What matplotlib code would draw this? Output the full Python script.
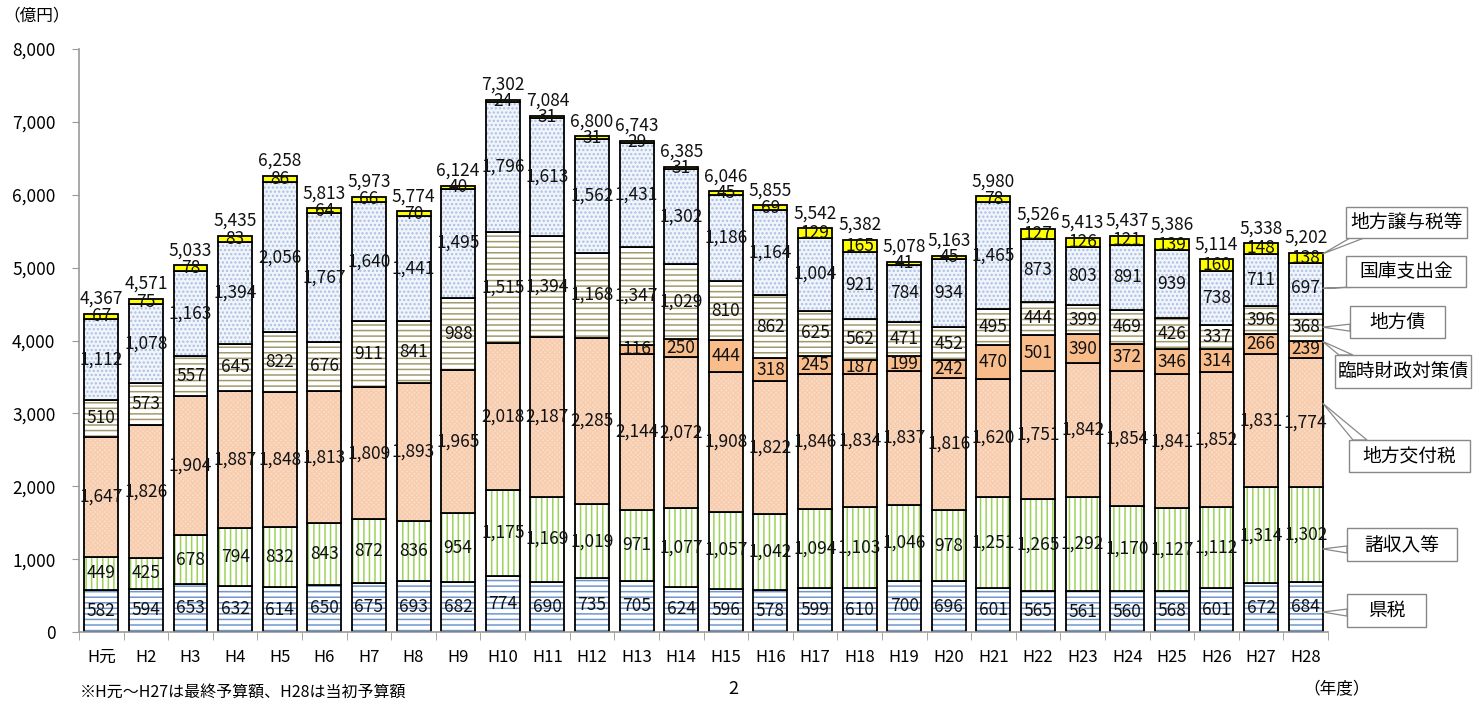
import numpy as np
import matplotlib
matplotlib.use("Agg")
import matplotlib.pyplot as plt
from matplotlib.patches import Rectangle, Polygon

plt.rcParams['font.family'] = ['Noto Sans CJK JP', 'DejaVu Sans']
plt.rcParams['hatch.linewidth'] = 1.1

# --- data (億円) ---
years = ['H元', 'H2', 'H3', 'H4', 'H5', 'H6', 'H7', 'H8', 'H9', 'H10', 'H11', 'H12', 'H13', 'H14',
         'H15', 'H16', 'H17', 'H18', 'H19', 'H20', 'H21', 'H22', 'H23', 'H24', 'H25', 'H26', 'H27', 'H28']
kenzei = [582, 594, 653, 632, 614, 650, 675, 693, 682, 774, 690, 735, 705, 624,
          596, 578, 599, 610, 700, 696, 601, 565, 561, 560, 568, 601, 672, 684]
shoshunyu = [449, 425, 678, 794, 832, 843, 872, 836, 954, 1175, 1169, 1019, 971, 1077,
             1057, 1042, 1094, 1103, 1046, 978, 1251, 1265, 1292, 1170, 1127, 1112, 1314, 1302]
kofuzei = [1647, 1826, 1904, 1887, 1848, 1813, 1809, 1893, 1965, 2018, 2187, 2285, 2144, 2072,
           1908, 1822, 1846, 1834, 1837, 1816, 1620, 1751, 1842, 1854, 1841, 1852, 1831, 1774]
rinji = [0, 0, 0, 0, 0, 0, 0, 0, 0, 0, 0, 0, 116, 250,
         444, 318, 245, 187, 199, 242, 470, 501, 390, 372, 346, 314, 266, 239]
chihosai = [510, 573, 557, 645, 822, 676, 911, 841, 988, 1515, 1394, 1168, 1347, 1029,
            810, 862, 625, 562, 471, 452, 495, 444, 399, 469, 426, 337, 396, 368]
kokko = [1112, 1078, 1163, 1394, 2056, 1767, 1640, 1441, 1495, 1796, 1613, 1562, 1431, 1302,
         1186, 1164, 1004, 921, 784, 934, 1465, 873, 803, 891, 939, 738, 711, 697]
joyozei = [67, 75, 78, 83, 86, 64, 66, 70, 40, 24, 31, 31, 29, 31,
           45, 69, 129, 165, 41, 45, 78, 127, 126, 121, 139, 160, 148, 138]
totals = [4367, 4571, 5033, 5435, 6258, 5813, 5973, 5774, 6124, 7302, 7084, 6800, 6743, 6385,
          6046, 5855, 5542, 5382, 5078, 5163, 5980, 5526, 5413, 5437, 5386, 5114, 5338, 5202]

series_names = ['県税', '諸収入等', '地方交付税', '臨時財政対策債', '地方債', '国庫支出金', '地方譲与税等']
series = [kenzei, shoshunyu, kofuzei, rinji, chihosai, kokko, joyozei]

# face, hatch, hatch colour
styles = [
    ('white', '---', '#6f97cf'),
    ('white', '|||', '#9bd35a'),
    ('#fcdcc4', 'xxxxxxx', '#f7cdb0'),
    ('#f9bd8c', None, None),
    ('white', '---', '#a39a6c'),
    ('#f1f5fb', '....', '#a9c0e3'),
    ('#ffff00', None, None),
]

W, H = 1484, 701
fig = plt.figure(figsize=(W / 100, H / 100), dpi=100)
ax = fig.add_axes([79 / W, 1 - 632 / H, (1328 - 79) / W, (632 - 49) / H])

x = np.arange(len(years))
bw = 0.76
bottom = np.zeros(len(years))
for vals, (fc, hatch, hc) in zip(series, styles):
    vals = np.array(vals, dtype=float)
    if hatch:
        ax.bar(x, vals, bw, bottom=bottom, color=fc, hatch=hatch, edgecolor=hc, linewidth=0)
        ax.bar(x, vals, bw, bottom=bottom, fill=False, edgecolor='black', linewidth=1.3)
    else:
        ax.bar(x, vals, bw, bottom=bottom, color=fc, edgecolor='black', linewidth=1.3)
    mid = bottom + vals / 2
    for i, v in enumerate(vals):
        if v > 0:
            ax.text(x[i], mid[i], f'{int(v):,}', ha='center', va='center', fontsize=12.5, color='#111')
    bottom = bottom + vals

for i, t in enumerate(totals):
    ax.text(x[i], bottom[i] + 80, f'{t:,}', ha='center', va='bottom', fontsize=12.5, color='#111')

ax.set_xlim(-0.5, len(years) - 0.5)
ax.set_ylim(0, 8000)
ax.set_yticks(np.arange(0, 8001, 1000))
ax.set_yticklabels([f'{v:,}' for v in range(0, 8001, 1000)], fontsize=12.5)
ax.set_xticks(x)
ax.set_xticklabels(years, fontsize=12)
ax.set_xticks(np.arange(-0.5, len(years), 1), minor=True)
ax.tick_params(axis='x', which='major', length=0, pad=12)
ax.tick_params(axis='x', which='minor', length=6, color='#999', direction='out')
ax.tick_params(axis='y', length=5, color='#999', pad=12)
for s in ['top', 'right']:
    ax.spines[s].set_visible(False)
for s in ['left', 'bottom']:
    ax.spines[s].set_color('#999')
    ax.spines[s].set_linewidth(1.2)

# overlay in pixel coords for callouts and notes
ov = fig.add_axes([0, 0, 1, 1], facecolor='none')
ov.set_xlim(0, W)
ov.set_ylim(H, 0)
ov.axis('off')

# callout boxes: (x0, y0, x1, y1) in pixels, series index, fraction of segment height for pointer
boxes = [
    (1346, 207, 1467, 238, 6, 0.9),
    (1346, 256, 1466, 287, 5, 0.5),
    (1350, 306, 1445, 338, 4, 0.5),
    (1335, 355, 1471, 388, 3, 0.95),
    (1349, 440, 1470, 472, 2, 0.65),
    (1347, 528, 1457, 561, 1, 0.35),
    (1347, 594, 1426, 627, 0, 0.4),
]
last = len(years) - 1
cum = np.zeros(len(years))
starts = []
for vals in series:
    starts.append(cum.copy())
    cum = cum + np.array(vals)
fig.canvas.draw()
for (x0, y0, x1, y1, si, frac) in boxes:
    yv = starts[si][last] + series[si][last] * frac
    px, py = ax.transData.transform((last + bw / 2, yv))
    py = H - py
    # wedge toward the box
    if py < y0:
        p1, p2 = (x0 + 4, y0), (x0 + 18, y0)
    elif py > y1:
        p1, p2 = (x0 + 4, y1), (x0 + 18, y1)
    else:
        p1, p2 = (x0, py - 3), (x0, py + 4)
    ov.add_patch(Polygon([(px, py), p1, p2], closed=True, facecolor='white', edgecolor='#888', linewidth=0.9, zorder=3))
    ov.add_patch(Rectangle((x0, y0), x1 - x0, y1 - y0, facecolor='white', edgecolor='#888', linewidth=1.0, zorder=4))
    ov.text((x0 + x1) / 2, (y0 + y1) / 2, series_names[si], ha='center', va='center', fontsize=13.5, zorder=5)

ov.text(3, 16, '（億円）', ha='left', va='center', fontsize=12)
ov.text(1303, 690, '（年度）', ha='left', va='center', fontsize=12)
ov.text(80, 692, '※H元～H27は最終予算額、H28は当初予算額', ha='left', va='center', fontsize=11.5)
ov.text(733, 689, '2', ha='center', va='center', fontsize=13)

fig.savefig('out.png', dpi=100)
